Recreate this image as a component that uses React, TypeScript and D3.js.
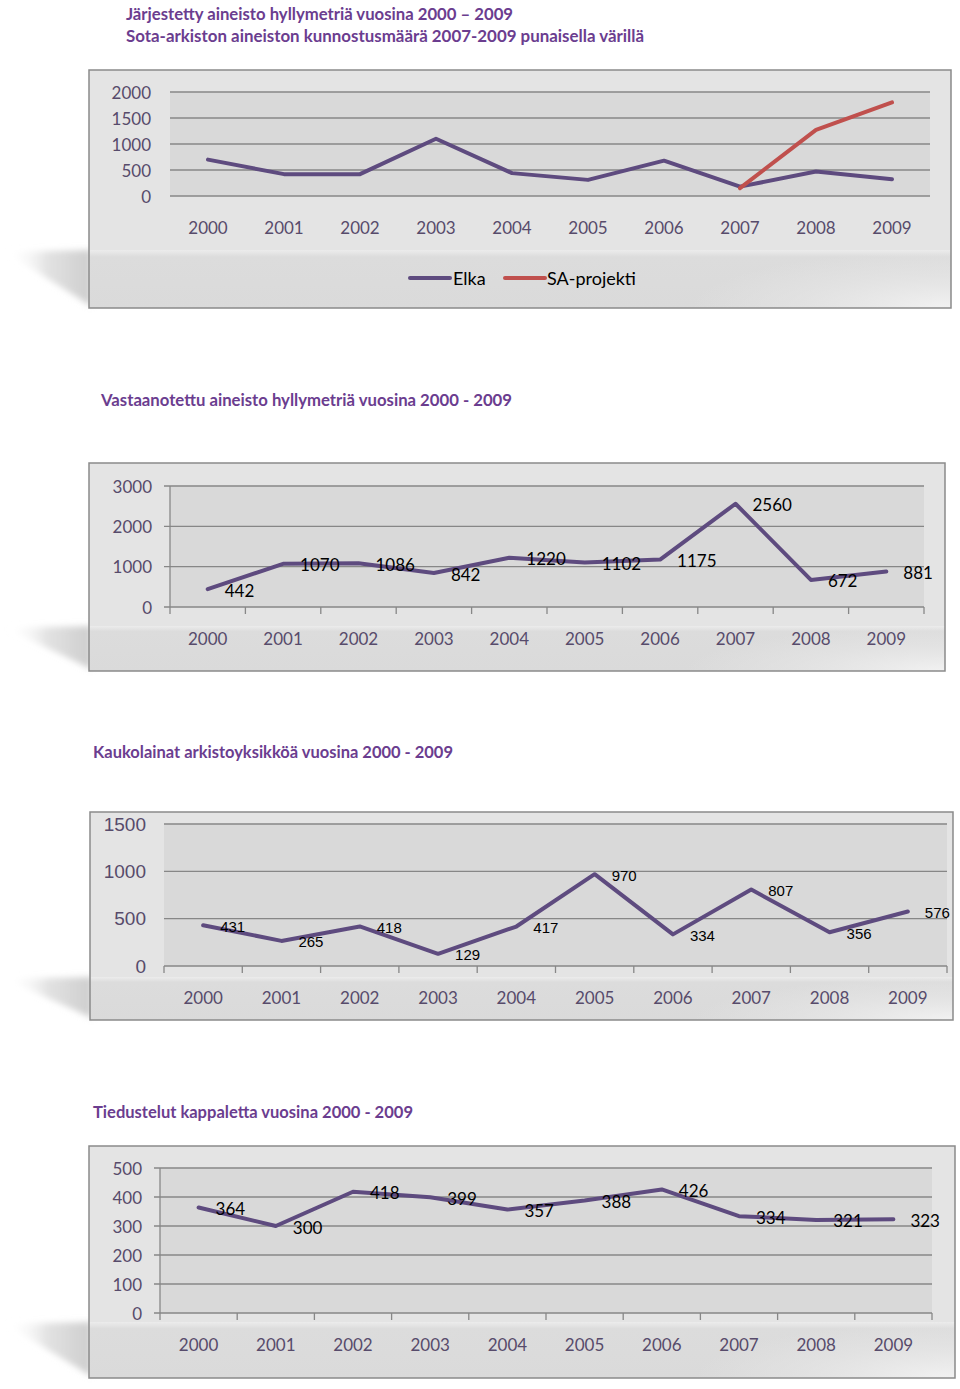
import React from "react";
import * as d3 from "d3";

const years = ["2000", "2001", "2002", "2003", "2004", "2005", "2006", "2007", "2008", "2009"];

const elka = [700, 420, 420, 1100, 440, 310, 680, 180, 470, 320];
const saYears = ["2007", "2008", "2009"];
const saProjekti = [150, 1270, 1800];
const ticks1 = [0, 500, 1000, 1500, 2000];

const received = [442, 1070, 1086, 842, 1220, 1102, 1175, 2560, 672, 881];
const ticks2 = [0, 1000, 2000, 3000];

const loans = [431, 265, 418, 129, 417, 970, 334, 807, 356, 576];
const ticks3 = [0, 500, 1000, 1500];

const inquiries = [364, 300, 418, 399, 357, 388, 426, 334, 321, 323];
const ticks4 = [0, 100, 200, 300, 400, 500];

const titles = [
  "Järjestetty aineisto hyllymetriä vuosina 2000 – 2009",
  "Sota-arkiston aineiston kunnostusmäärä  2007-2009 punaisella värillä",
  "Vastaanotettu aineisto hyllymetriä vuosina 2000 - 2009",
  "Kaukolainat arkistoyksikköä vuosina 2000 - 2009",
  "Tiedustelut kappaletta vuosina 2000 - 2009",
];

const PURPLE = "#5e4b7f";
const RED = "#c0504d";
const AXIS_TXT = "#574b6b";
const TITLE = "#6b3d8f";
const CAL = "Lato, 'Open Sans', sans-serif";
const ARIAL = "'Liberation Sans', Arial, sans-serif";

type Series = { cats: string[]; values: number[]; color: string };

type ChartProps = {
  id: string;
  frame: { x: number; y: number; w: number; h: number };
  plot: { x0: number; x1: number; y0: number; y1: number };
  domainMax: number;
  ticks: number[];
  series: Series[];
  labels?: boolean;
  yFont: string;
  ySize: number;
  yLabelRight: number;
  xLabelY: number;
  labelFont: string;
  labelSize: number;
  axisLine: boolean;
  yTicks: boolean;
  xTicks: boolean;
  shadowTop: number;
  children?: React.ReactNode;
};

function Chart(p: ChartProps) {
  const x = d3.scaleBand<string>().domain(years).range([p.plot.x0, p.plot.x1]);
  const y = d3.scaleLinear().domain([0, p.domainMax]).range([p.plot.y1, p.plot.y0]);
  const cx = (c: string) => (x(c) as number) + x.bandwidth() / 2;
  const line = (s: Series) =>
    d3
      .line<number>()
      .x((_, i) => cx(s.cats[i]))
      .y((v) => y(v))(s.values) as string;
  const f = p.frame;
  const fb = f.y + f.h;
  const boundaries = years.map((c) => x(c) as number).concat([p.plot.x1]);
  return (
    <g>
      <defs>
        <linearGradient id={`sh-${p.id}`} x1="0" x2="1" y1="0" y2="0">
          <stop offset="0" stopColor="#ffffff" stopOpacity="0" />
          <stop offset="0.5" stopColor="#dadada" stopOpacity="0.8" />
          <stop offset="1" stopColor="#cdcdcd" stopOpacity="1" />
        </linearGradient>
        <linearGradient id={`lb-${p.id}`} x1="0" x2="0" y1="0" y2="1">
          <stop offset="0" stopColor="#ececec" />
          <stop offset="0.12" stopColor="#dcdcdc" />
          <stop offset="1" stopColor="#dadada" />
        </linearGradient>
        <radialGradient id={`hl-${p.id}`} cx="1" cy="1" r="1">
          <stop offset="0" stopColor="#f2f2f2" />
          <stop offset="0.6" stopColor="#e6e6e6" stopOpacity="0.6" />
          <stop offset="1" stopColor="#e6e6e6" stopOpacity="0" />
        </radialGradient>
        <filter id={`bl-${p.id}`} x="-20%" y="-50%" width="140%" height="200%">
          <feGaussianBlur stdDeviation="3" />
        </filter>
      </defs>
      <path
        d={`M${6},${p.shadowTop + 2} L${f.x + 2},${p.shadowTop} L${f.x + 2},${fb - 2} Z`}
        fill={`url(#sh-${p.id})`}
        filter={`url(#bl-${p.id})`}
      />
      <rect x={f.x} y={f.y} width={f.w} height={f.h} fill="#e4e4e4" />
      <rect x={f.x} y={p.shadowTop} width={f.w} height={fb - p.shadowTop} fill={`url(#lb-${p.id})`} />
      <rect x={f.x + f.w - 260} y={p.shadowTop} width={260} height={fb - p.shadowTop} fill={`url(#hl-${p.id})`} />
      <rect x={f.x} y={f.y} width={f.w} height={f.h} fill="none" stroke="#8a8a8a" strokeWidth={1.5} />
      <rect
        x={p.plot.x0}
        y={p.plot.y0}
        width={p.plot.x1 - p.plot.x0}
        height={p.plot.y1 - p.plot.y0}
        fill="#d9d9d9"
      />
      {p.ticks.map((t) => (
        <g key={t}>
          <line
            x1={p.yTicks ? p.plot.x0 - 6 : p.plot.x0}
            x2={p.plot.x1}
            y1={y(t)}
            y2={y(t)}
            stroke="#878787"
            strokeWidth={1.3}
          />
          <text
            x={p.yLabelRight}
            y={y(t)}
            textAnchor="end"
            dominantBaseline="central"
            fontFamily={p.yFont}
            fontSize={p.ySize}
            fill={AXIS_TXT}
          >
            {t}
          </text>
        </g>
      ))}
      {p.axisLine && (
        <line x1={p.plot.x0} x2={p.plot.x0} y1={p.plot.y0} y2={p.plot.y1} stroke="#878787" strokeWidth={1.3} />
      )}
      {p.xTicks &&
        boundaries.map((b, i) => (
          <line key={i} x1={b} x2={b} y1={p.plot.y1} y2={p.plot.y1 + 7} stroke="#878787" strokeWidth={1.3} />
        ))}
      {years.map((c) => (
        <text
          key={c}
          x={cx(c)}
          y={p.xLabelY}
          textAnchor="middle"
          dominantBaseline="central"
          fontFamily={CAL}
          fontSize={17}
          fill={AXIS_TXT}
        >
          {c}
        </text>
      ))}
      {p.series.map((s, i) => (
        <path
          key={i}
          d={line(s)}
          fill="none"
          stroke={s.color}
          strokeWidth={4}
          strokeLinecap="round"
          strokeLinejoin="round"
        />
      ))}
      {p.labels &&
        p.series.map((s) =>
          s.values.map((v, i) => (
            <text
              key={s.cats[i]}
              x={cx(s.cats[i]) + 17}
              y={y(v) + 1}
              dominantBaseline="central"
              fontFamily={p.labelFont}
              fontSize={p.labelSize}
              fill="#000"
            >
              {v}
            </text>
          ))
        )}
      {p.children}
    </g>
  );
}

function Title({ x, y, text, len }: { x: number; y: number; text: string; len: number }) {
  return (
    <text
      x={x}
      y={y}
      dominantBaseline="central"
      fontFamily={CAL}
      fontWeight="bold"
      fontSize={17}
      fill={TITLE}
      textLength={len}
      lengthAdjust="spacingAndGlyphs"
    >
      {text}
    </text>
  );
}

export default function App() {
  return (
    <svg
      width={960}
      height={1389}
      viewBox="0 0 960 1389"
      style={{ position: "absolute", left: 0, top: 0, background: "#fff" }}
    >
      <rect x={0} y={0} width={960} height={1389} fill="#fff" />
      <Title x={126} y={13} text={titles[0]} len={387} />
      <Title x={126} y={35} text={titles[1]} len={518} />
      <Chart
        id="c1"
        frame={{ x: 89, y: 70, w: 862, h: 238 }}
        plot={{ x0: 170, x1: 930, y0: 92, y1: 196 }}
        domainMax={2000}
        ticks={ticks1}
        series={[
          { cats: years, values: elka, color: PURPLE },
          { cats: saYears, values: saProjekti, color: RED },
        ]}
        yFont={CAL}
        ySize={17}
        yLabelRight={151}
        xLabelY={227}
        labelFont={CAL}
        labelSize={17}
        axisLine={false}
        yTicks={false}
        xTicks={false}
        shadowTop={250}
      >
        <line x1={410} x2={450} y1={278} y2={278} stroke={PURPLE} strokeWidth={4} strokeLinecap="round" />
        <text x={453} y={278} dominantBaseline="central" fontFamily={CAL} fontSize={18} fill="#000">
          Elka
        </text>
        <line x1={505} x2={545} y1={278} y2={278} stroke={RED} strokeWidth={4} strokeLinecap="round" />
        <text x={547} y={278} dominantBaseline="central" fontFamily={CAL} fontSize={18} fill="#000">
          SA-projekti
        </text>
      </Chart>

      <Title x={101} y={399} text={titles[2]} len={411} />
      <Chart
        id="c2"
        frame={{ x: 89, y: 463, w: 856, h: 208 }}
        plot={{ x0: 170, x1: 924, y0: 486, y1: 607 }}
        domainMax={3000}
        ticks={ticks2}
        series={[{ cats: years, values: received, color: PURPLE }]}
        labels
        yFont={CAL}
        ySize={17}
        yLabelRight={152}
        xLabelY={638}
        labelFont={CAL}
        labelSize={17}
        axisLine
        yTicks
        xTicks
        shadowTop={626}
      />

      <Title x={93} y={751} text={titles[3]} len={360} />
      <Chart
        id="c3"
        frame={{ x: 90, y: 812, w: 863, h: 208 }}
        plot={{ x0: 164, x1: 947, y0: 824, y1: 966 }}
        domainMax={1500}
        ticks={ticks3}
        series={[{ cats: years, values: loans, color: PURPLE }]}
        labels
        yFont={ARIAL}
        ySize={19}
        yLabelRight={146}
        xLabelY={997}
        labelFont={ARIAL}
        labelSize={15}
        axisLine={false}
        yTicks={false}
        xTicks
        shadowTop={977}
      />

      <Title x={93} y={1111} text={titles[4]} len={320} />
      <Chart
        id="c4"
        frame={{ x: 89, y: 1146, w: 866, h: 232 }}
        plot={{ x0: 160, x1: 932, y0: 1168, y1: 1313 }}
        domainMax={500}
        ticks={ticks4}
        series={[{ cats: years, values: inquiries, color: PURPLE }]}
        labels
        yFont={CAL}
        ySize={17}
        yLabelRight={142}
        xLabelY={1344}
        labelFont={CAL}
        labelSize={17}
        axisLine
        yTicks
        xTicks
        shadowTop={1322}
      />
    </svg>
  );
}
